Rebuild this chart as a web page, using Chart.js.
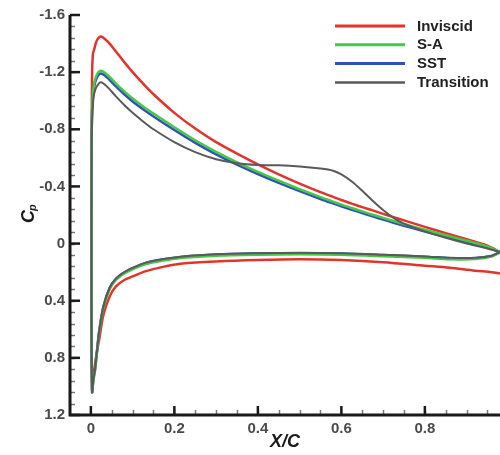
<!DOCTYPE html>
<html>
<head>
<meta charset="utf-8">
<script src="https://cdn.jsdelivr.net/npm/chart.js@4.4.1/dist/chart.umd.min.js"></script>
<style>
  html, body { margin: 0; padding: 0; background: #fff; }
</style>
</head>
<body>
<canvas id="cpChart" width="500" height="455"></canvas>
<script>
// Legend names and colours
const seriesNames = ["Inviscid", "S-A", "SST", "Transition"];
const seriesColors = ["#e3342b", "#45c845", "#3050c0", "#5a5a5a"];

// Axis ticks
const xTicks = [0, 0.2, 0.4, 0.6, 0.8];
const yTicks = [-1.6, -1.2, -0.8, -0.4, 0, 0.4, 0.8, 1.2];

// x/c stations on the upper surface (leading edge -> trailing edge)
const upperX = [0.0015, 0.0015, 0.002, 0.003, 0.005, 0.008, 0.014, 0.024, 0.04, 0.06, 0.08, 0.1,
  0.125, 0.15, 0.2, 0.25, 0.3, 0.35, 0.4, 0.45, 0.5, 0.55, 0.58, 0.6, 0.625, 0.65, 0.675, 0.7,
  0.725, 0.75, 0.8, 0.85, 0.9, 0.95, 0.98];

// x/c stations on the lower surface (stagnation point -> trailing edge)
const lowerX = [0.003, 0.006, 0.01, 0.015, 0.02, 0.03, 0.045, 0.06, 0.08, 0.1, 0.13, 0.17, 0.22,
  0.3, 0.4, 0.5, 0.6, 0.7, 0.8, 0.86, 0.92, 0.96, 0.98];

// Cp, upper surface
const invUpper = [0.5, -0.3, -0.8, -1.2, -1.33, -1.36, -1.42, -1.45, -1.415, -1.345, -1.27, -1.2,
  -1.12, -1.045, -0.915, -0.805, -0.71, -0.63, -0.555, -0.485, -0.42, -0.36, -0.327, -0.305, -0.28,
  -0.255, -0.232, -0.208, -0.185, -0.162, -0.117, -0.073, -0.03, 0.015, 0.06];
const saUpper = [0.5, -0.3, -0.77, -0.94, -1.05, -1.12, -1.18, -1.21, -1.18, -1.12, -1.065, -1.015,
  -0.96, -0.91, -0.814, -0.723, -0.642, -0.569, -0.502, -0.44, -0.381, -0.325, -0.294, -0.273,
  -0.249, -0.225, -0.202, -0.18, -0.158, -0.137, -0.097, -0.058, -0.02, 0.02, 0.06];
const sstUpper = [0.5, -0.3, -0.75, -0.92, -1.03, -1.1, -1.16, -1.19, -1.16, -1.1, -1.045, -0.995,
  -0.94, -0.89, -0.795, -0.705, -0.625, -0.553, -0.487, -0.425, -0.367, -0.312, -0.281, -0.261,
  -0.237, -0.213, -0.19, -0.168, -0.146, -0.125, -0.085, -0.047, -0.01, 0.028, 0.06];
const transUpper = [0.5, -0.3, -0.7, -0.87, -0.98, -1.05, -1.1, -1.13, -1.095, -1.03, -0.97, -0.915,
  -0.855, -0.8, -0.71, -0.64, -0.59, -0.562, -0.55, -0.548, -0.54, -0.525, -0.51, -0.485, -0.435,
  -0.37, -0.3, -0.235, -0.18, -0.14, -0.085, -0.04, 0.0, 0.035, 0.06];

// Cp, lower surface
const invLower = [1.03, 0.93, 0.84, 0.75, 0.67, 0.5, 0.37, 0.3, 0.255, 0.23, 0.195, 0.165, 0.14,
  0.125, 0.115, 0.11, 0.115, 0.13, 0.155, 0.17, 0.19, 0.2, 0.21];
const saLower = [1.04, 0.96, 0.89, 0.75, 0.62, 0.45, 0.32, 0.255, 0.21, 0.18, 0.145, 0.12, 0.1,
  0.085, 0.078, 0.075, 0.078, 0.088, 0.1, 0.11, 0.108, 0.09, 0.06];
const sstLower = [1.04, 0.95, 0.88, 0.74, 0.61, 0.44, 0.31, 0.247, 0.202, 0.172, 0.137, 0.112,
  0.092, 0.077, 0.07, 0.067, 0.07, 0.08, 0.092, 0.102, 0.102, 0.087, 0.06];
const transLower = [1.04, 0.95, 0.88, 0.74, 0.61, 0.44, 0.31, 0.245, 0.2, 0.17, 0.135, 0.11, 0.09,
  0.075, 0.068, 0.065, 0.068, 0.078, 0.09, 0.1, 0.1, 0.085, 0.06];

// one closed loop per series: upper surface TE->LE, then lower surface LE->TE
function loop(up, low) {
  const pts = upperX.map((x, i) => ({ x: x, y: up[i] })).reverse();
  return pts.concat(lowerX.map((x, i) => ({ x: x, y: low[i] })));
}

const curves = [
  loop(invUpper, invLower),
  loop(saUpper, saLower),
  loop(sstUpper, sstLower),
  loop(transUpper, transLower)
];
const lineWidths = [2.5, 2.5, 2.5, 2];
const drawOrder = [3, 1, 2, 0];

// axes with ticks pointing inward, Cp title and the legend box
const framePlugin = {
  id: "frame",
  afterDraw(chart) {
    const ctx = chart.ctx;
    const xs = chart.scales.x, ys = chart.scales.y;
    const area = chart.chartArea;
    ctx.save();
    ctx.lineCap = "butt";

    // minor ticks
    ctx.lineWidth = 1.5;
    ctx.strokeStyle = "#777";
    for (let v = 0.05; v < 0.98; v += 0.05) {
      const px = Math.round(xs.getPixelForValue(v)) + 0.5;
      ctx.beginPath(); ctx.moveTo(px, area.bottom); ctx.lineTo(px, area.bottom - 5); ctx.stroke();
    }
    for (let v = -1.52; v < 1.2; v += 0.08) {
      const py = Math.round(ys.getPixelForValue(v)) + 0.5;
      ctx.beginPath(); ctx.moveTo(area.left, py); ctx.lineTo(area.left + 5, py); ctx.stroke();
    }

    // major ticks
    ctx.lineWidth = 2.5;
    ctx.strokeStyle = "#1a1a1a";
    xTicks.forEach(v => {
      const px = xs.getPixelForValue(v);
      ctx.beginPath(); ctx.moveTo(px, area.bottom); ctx.lineTo(px, area.bottom - 9); ctx.stroke();
    });
    yTicks.forEach(v => {
      const py = ys.getPixelForValue(v);
      ctx.beginPath(); ctx.moveTo(area.left, py); ctx.lineTo(area.left + 10, py); ctx.stroke();
    });

    // axis lines
    ctx.lineWidth = 3;
    ctx.beginPath();
    ctx.moveTo(area.left, area.top);
    ctx.lineTo(area.left, area.bottom);
    ctx.lineTo(area.right, area.bottom);
    ctx.stroke();

    // Cp title
    ctx.fillStyle = "#1a1a1a";
    ctx.translate(34, 223);
    ctx.rotate(-Math.PI / 2);
    ctx.textBaseline = "alphabetic";
    ctx.textAlign = "left";
    ctx.font = "bold italic 18px 'Liberation Sans', Arial, sans-serif";
    ctx.fillText("C", 0, 0);
    const cw = ctx.measureText("C").width;
    ctx.font = "bold italic 11px 'Liberation Sans', Arial, sans-serif";
    ctx.fillText("p", cw - 1, 2);
    ctx.restore();

    // legend
    ctx.save();
    ctx.font = "bold 15px 'Liberation Sans', Arial, sans-serif";
    ctx.textBaseline = "middle";
    ctx.fillStyle = "#222";
    chart.data.datasets.forEach((ds, i) => {
      const y = 26 + i * 18.8;
      ctx.strokeStyle = ds.borderColor;
      ctx.lineWidth = ds.borderWidth + 0.5;
      ctx.beginPath(); ctx.moveTo(335, y); ctx.lineTo(405, y); ctx.stroke();
      ctx.fillText(ds.label, 417, y + 0.5);
    });
    ctx.restore();
  }
};

new Chart(document.getElementById("cpChart"), {
  type: "scatter",
  data: {
    datasets: seriesNames.map((name, i) => ({
      label: name,
      data: curves[i],
      showLine: true,
      borderColor: seriesColors[i],
      backgroundColor: seriesColors[i],
      borderWidth: lineWidths[i],
      pointRadius: 0,
      tension: 0.3,
      order: drawOrder[i]
    }))
  },
  options: {
    responsive: false,
    animation: false,
    layout: { padding: { top: 15, right: 0, bottom: 0, left: 0 } },
    plugins: {
      legend: { display: false },
      tooltip: { enabled: false }
    },
    scales: {
      x: {
        type: "linear",
        min: -0.05,
        max: 0.98,
        grid: { display: false, drawTicks: false },
        border: { display: false },
        afterBuildTicks: scale => { scale.ticks = xTicks.map(v => ({ value: v })); },
        afterFit: scale => { scale.height = 40; },
        ticks: {
          padding: 5,
          color: "#4a4a4a",
          font: { family: "'Liberation Sans', Arial, sans-serif", size: 15, weight: "bold" },
          callback: v => String(v)
        },
        title: {
          display: true,
          text: "X/C",
          color: "#1a1a1a",
          padding: { top: 0, bottom: 2 },
          font: { family: "'Liberation Sans', Arial, sans-serif", size: 18, weight: "bold", style: "italic" }
        }
      },
      y: {
        type: "linear",
        reverse: true,
        min: -1.6,
        max: 1.2,
        grid: { display: false, drawTicks: false },
        border: { display: false },
        afterBuildTicks: scale => { scale.ticks = yTicks.map(v => ({ value: v })); },
        afterFit: scale => { scale.width = 70; },
        ticks: {
          padding: 5,
          color: "#4a4a4a",
          font: { family: "'Liberation Sans', Arial, sans-serif", size: 15, weight: "bold" },
          callback: v => String(v)
        }
      }
    }
  },
  plugins: [framePlugin]
});
</script>
</body>
</html>
